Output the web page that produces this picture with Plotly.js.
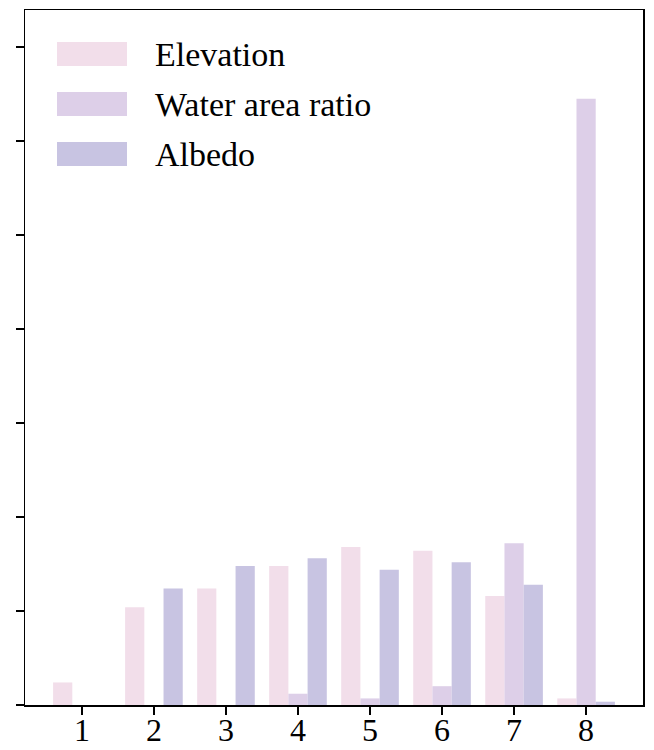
<!DOCTYPE html>
<html>
<head>
<meta charset="utf-8">
<script src="https://cdn.plot.ly/plotly-3.0.1.min.js"></script>
<style>html,body{margin:0;padding:0;background:#fff;}#chart{width:654px;height:750px;}</style>
</head>
<body>
<div id="chart"></div>
<script>
const categories = [1, 2, 3, 4, 5, 6, 7, 8];
const tickLabels = ['1', '2', '3', '4', '5', '6', '7', '8'];
const seriesNames = ['Elevation', 'Water area ratio', 'Albedo'];
const elevation = [0.24, 1.04, 1.24, 1.48, 1.68, 1.64, 1.16, 0.07];
const waterAreaRatio = [0, 0, 0, 0.12, 0.07, 0.20, 1.72, 6.45];
const albedo = [0, 1.24, 1.48, 1.56, 1.44, 1.52, 1.28, 0.035];
const colors = ['#F2DEEA', '#DDCFE8', '#C8C4E2'];

const seriesValues = [elevation, waterAreaRatio, albedo];
const font = 'Liberation Serif, Times New Roman, serif';

const traces = seriesValues.map((vals, i) => ({
  type: 'bar',
  x: categories,
  y: vals,
  name: seriesNames[i],
  marker: {color: colors[i], line: {width: 0}},
  showlegend: false,
  hoverinfo: 'x+y+name'
}));

// custom legend (large patches like matplotlib)
const shapes = [];
const annotations = [];
const plotH = 695, plotW = 618;
seriesNames.forEach((n, i) => {
  const top = 42 + i * 50, bot = 66 + i * 50;
  shapes.push({
    type: 'rect', xref: 'paper', yref: 'paper',
    x0: (57 - 25) / plotW, x1: (127 - 25) / plotW,
    y0: (705 - bot) / plotH, y1: (705 - top) / plotH,
    fillcolor: colors[i], line: {width: 0}
  });
  annotations.push({
    xref: 'paper', yref: 'paper',
    x: (153 - 25) / plotW, y: (705 - (top + 12)) / plotH,
    xanchor: 'left', yanchor: 'middle',
    text: n, showarrow: false,
    font: {family: font, size: 34, color: '#000'}
  });
});

const layout = {
  width: 654, height: 750,
  margin: {l: 25, r: 11, t: 10, b: 45},
  paper_bgcolor: '#fff', plot_bgcolor: '#fff',
  barmode: 'group', bargap: 0.2, bargroupgap: 0,
  font: {family: font, size: 32, color: '#000'},
  xaxis: {
    range: [0.21, 8.79],
    tickvals: categories, ticktext: tickLabels,
    ticks: 'outside', ticklen: 8, tickwidth: 1.5, tickcolor: '#000',
    ticklabelstandoff: -12,
    showline: true, linecolor: '#000', linewidth: 1.5, mirror: true,
    showgrid: false, zeroline: false,
    tickfont: {family: font, size: 32, color: '#000'}
  },
  yaxis: {
    range: [0, 7.394],
    tickvals: [0, 1, 2, 3, 4, 5, 6, 7],
    showticklabels: false,
    ticks: 'outside', ticklen: 8, tickwidth: 1.5, tickcolor: '#000',
    showline: true, linecolor: '#000', linewidth: 1.5, mirror: true,
    showgrid: false, zeroline: false
  },
  shapes: shapes,
  annotations: annotations
};

Plotly.newPlot('chart', traces, layout, {displayModeBar: false, staticPlot: true});
</script>
</body>
</html>
